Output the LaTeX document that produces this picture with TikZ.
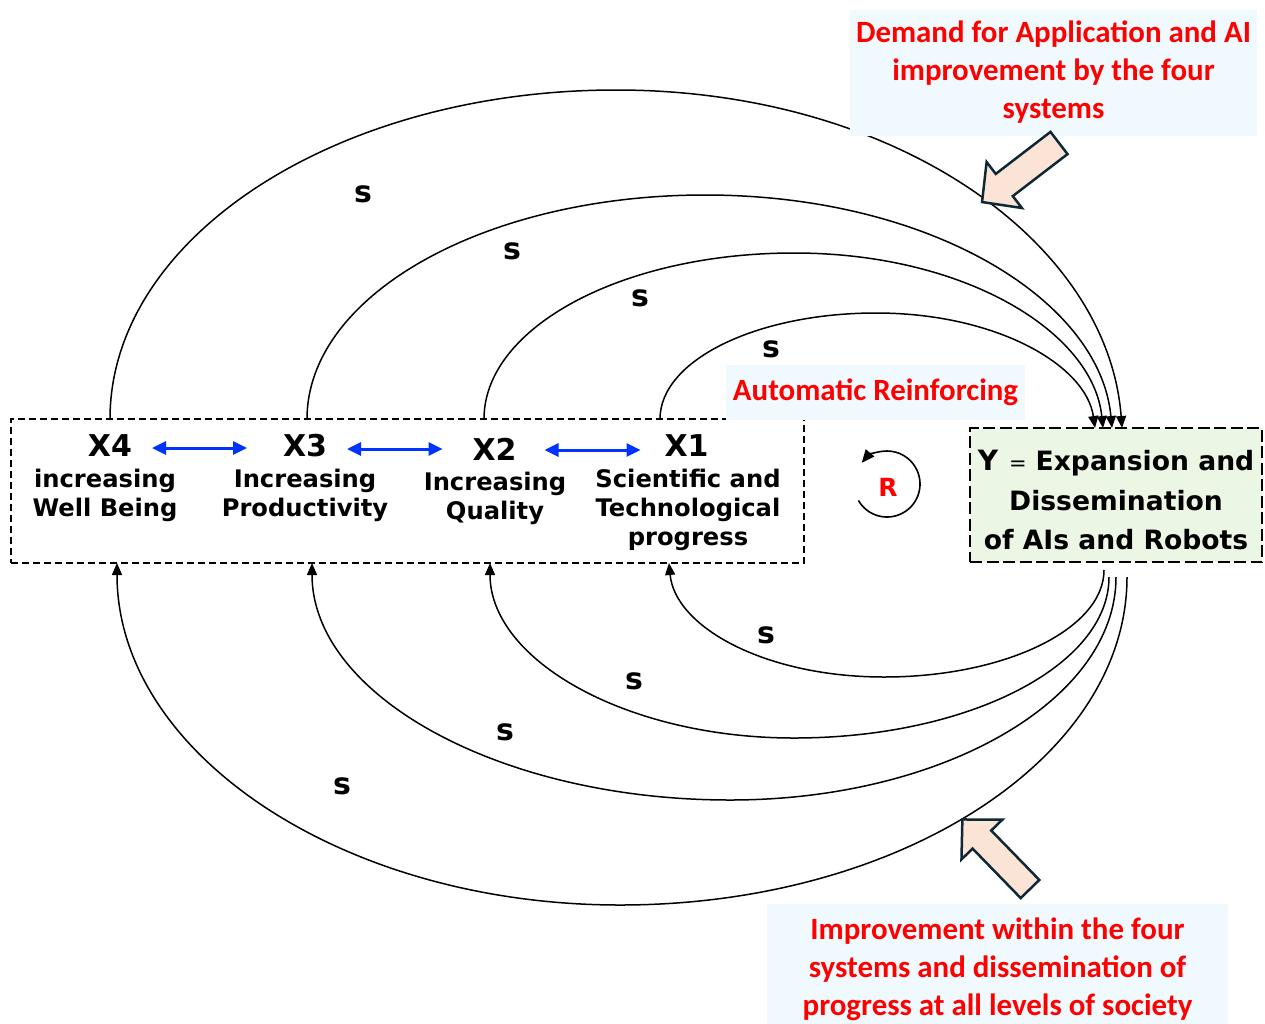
\documentclass[tikz,border=0pt]{standalone}
\usepackage{fontspec}
\usetikzlibrary{arrows.meta,calc}
\newfontfamily\vsans{DejaVu Sans}
\newfontfamily\notefont{Carlito}
\definecolor{loopred}{RGB}{255,0,0}
\definecolor{linkblue}{RGB}{0,51,255}
\definecolor{notefill}{RGB}{240,249,253}
\definecolor{yfill}{RGB}{235,246,228}
\definecolor{bigfill}{RGB}{251,227,214}
\definecolor{bigline}{RGB}{14,40,54}
\tikzset{
  every node/.style={inner sep=0pt, outer sep=0pt},
  grpbox/.style={draw, line width=1.8pt, dash pattern=on 7pt off 4pt},
  ybox/.style={draw, fill=yfill, line width=1.6pt, dash pattern=on 12pt off 4.5pt},
  ttl/.style={font=\vsans\bfseries\fontsize{30}{34}\selectfont},
  dsc/.style={font=\vsans\bfseries\fontsize{24.2}{29}\selectfont, align=center},
  ytxt/.style={font=\vsans\bfseries\fontsize{26.6}{39.5}\selectfont, align=center},
  slabel/.style={font=\vsans\bfseries\fontsize{30}{34}\selectfont},
  notebox/.style={fill=notefill, text=loopred, align=center,
    font=\notefont\bfseries\fontsize{30.9}{38}\selectfont},
  flow/.style={line width=1.5pt, -{Triangle[length=12pt,width=10pt]}},
  link/.style={draw=linkblue, line width=3pt,
    {Triangle[length=14pt,width=13pt]}-{Triangle[length=14pt,width=13pt]}},
  loopline/.style={line width=1.6pt, -{Triangle[length=13pt,width=11pt]}},
  bigarrow/.style={fill=bigfill, draw=bigline, line width=2.5pt, line join=miter},
}
\begin{document}
\begin{tikzpicture}[x=1pt, y=-1pt]
\useasboundingbox (0,0) rectangle (1265,1023);

% the four systems and their shared frame
\node[grpbox, minimum width=793pt, minimum height=144pt] (grp) at (407.5,491) {};
\node[ttl] (x4) at (110,446) {X4};
\node[ttl] (x3) at (305,446) {X3};
\node[ttl] (x2) at (494.5,449) {X2};
\node[ttl] (x1) at (686.5,446) {X1};
\node[dsc] (x4d) at (105,495) {increasing\\Well Being};
\node[dsc] (x3d) at (305,495) {Increasing\\Productivity};
\node[dsc] (x2d) at (495,498) {Increasing\\Quality};
\node[dsc] (x1d) at (688,510) {Scientific and\\Technological\\progress};

% mutual links between neighbouring systems
\draw[link, shorten <=20pt, shorten >=36pt] ($(x4.east)+(0,2)$) -- ($(x3.west)+(0,2)$);
\draw[link, shorten <=20pt, shorten >=30pt] ($(x3.east)+(0,3)$) -- ($(x2.west)+(0,0)$);
\draw[link, shorten <=28pt, shorten >=24pt] ($(x2.east)+(0,1)$) -- ($(x1.west)+(0,4)$);

% the AI and robot box
\node[ybox, minimum width=292pt, minimum height=134pt] (ybox) at (1116,495) {};
\node[ytxt] (ytext) at ($(ybox)+(0,5)$)
  {{\fontsize{28}{39.5}\selectfont Y}\hspace{11pt}{\mdseries\fontsize{21}{39.5}\selectfont =}\hspace{9pt}Expansion and\\Dissemination\\of AIs and Robots};

% end points of the feedback links
\coordinate (u4) at (x4 |- grp.north);
\coordinate (u3) at ($(x3 |- grp.north)+(2,0)$);
\coordinate (u2) at ($(x2 |- grp.north)+(-10.5,0)$);
\coordinate (u1) at ($(x1 |- grp.north)+(-26.5,0)$);
\coordinate (d4) at ($(x4 |- grp.south)+(7,0)$);
\coordinate (d3) at ($(x3 |- grp.south)+(7,0)$);
\coordinate (d2) at ($(x2 |- grp.south)+(-4.5,0)$);
\coordinate (d1) at ($(x1 |- grp.south)+(-17.5,0)$);
\coordinate (yn4) at ($(ybox.north)+(6,0)$);
\coordinate (yn3) at ($(ybox.north)+(-4,0)$);
\coordinate (yn2) at ($(ybox.north)+(-13,0)$);
\coordinate (yn1) at ($(ybox.north)+(-21,0)$);
\coordinate (ys4) at ($(ybox.south)+(11,15)$);
\coordinate (ys3) at ($(ybox.south)+(0,15)$);
\coordinate (ys2) at ($(ybox.south)+(-7,15)$);
\coordinate (ys1) at ($(ybox.south)+(-12,8)$);

% demand: each system feeds the AI box
\draw[flow] (u4) .. controls (110,237) and (337,90) .. (616,90)
                 .. controls (896,90) and (1108,242) .. (yn4);
\draw[flow] (u3) .. controls (307,295) and (485,195) .. (705,195)
                 .. controls (930,195) and (1100,300) .. (yn3);
\draw[flow] (u2) .. controls (484,327) and (623,253) .. (794,253)
                 .. controls (965,253) and (1093,332) .. (yn2);
\draw[flow] (u1) .. controls (660,360) and (757,313) .. (876,313)
                 .. controls (996,313) and (1086,365) .. (yn1);

% improvement: the AI box feeds each system
\draw[flow] (ys4) .. controls (1127,758) and (900,905) .. (620,905)
                  .. controls (342,905) and (117,753) .. (d4);
\draw[flow] (ys3) .. controls (1116,700) and (943,800) .. (730,800)
                  .. controls (499,800) and (312,695) .. (d3);
\draw[flow] (ys2) .. controls (1109,666) and (968,738) .. (794,738)
                  .. controls (626,738) and (490,660) .. (d2);
\draw[flow] (ys1) .. controls (1104,629) and (1005,677) .. (884,677)
                  .. controls (765,677) and (675,627) .. (d1);

% link polarities
\node[slabel] (s1) at (363,194) {s};
\node[slabel] (s2) at (512,251) {s};
\node[slabel] (s3) at (640,298) {s};
\node[slabel] (s4) at (771,349) {s};
\node[slabel] (s5) at (766,635) {s};
\node[slabel] (s6) at (634,681) {s};
\node[slabel] (s7) at (505,732) {s};
\node[slabel] (s8) at (342,786) {s};

% reinforcing loop marker
\node[font=\vsans\bfseries\fontsize{25}{30}\selectfont, text=loopred] (rmark) at (888,487) {R};
\draw[loopline] ($(rmark)+(-1,-3)+(150:33)$) arc[start angle=150, end angle=-140, radius=33];

% notes
\node[notebox, minimum width=407pt, minimum height=126pt] (demand) at (1053.5,72.5)
  {Demand for Application and AI\\improvement by the four\\systems};
\node[notebox, minimum width=299pt, minimum height=55pt] (auto) at (875.5,392)
  {Automatic Reinforcing};
\node[notebox, minimum width=461pt, minimum height=130pt] (improve) at (997.5,969)
  {Improvement within the four\\systems and dissemination of\\progress at all levels of society};

% block arrows pointing at the two bundles
\begin{scope}[shift={(1059,143)}, rotate=-142.5]
  \draw[bigarrow] (0,-14) -- (69,-14) -- (69,-29) -- (97,0) -- (69,29) -- (69,14) -- (0,14) -- cycle;
\end{scope}
\begin{scope}[shift={(1030,889)}, rotate=134.2]
  \draw[bigarrow] (0,-13) -- (69,-13) -- (69,-28.5) -- (97,0) -- (69,28.5) -- (69,13) -- (0,13) -- cycle;
\end{scope}
\end{tikzpicture}
\end{document}
